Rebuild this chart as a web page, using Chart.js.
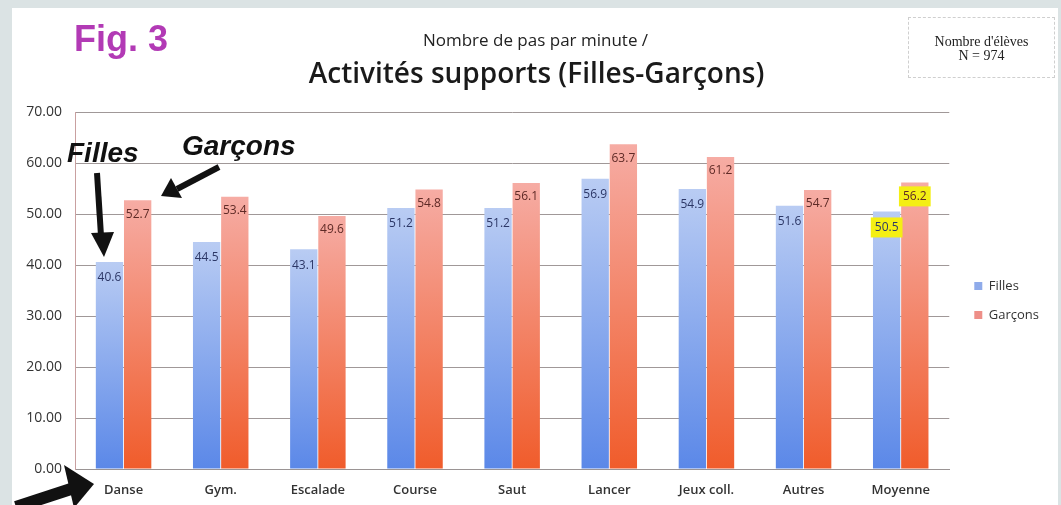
<!DOCTYPE html>
<html lang="fr">
<head>
<meta charset="utf-8">
<title>Fig. 3 – Nombre de pas par minute</title>
<script src="https://cdn.jsdelivr.net/npm/chart.js@4/dist/chart.umd.min.js"></script>
<style>
  html, body { margin: 0; padding: 0; }
  body { width: 1061px; height: 505px; background: #dbe3e4; position: relative; overflow: hidden; }
  #panel { position: absolute; left: 12px; top: 8px; width: 1046px; height: 497px; background: #fff; }
  #chart { position: absolute; left: 0; top: 0; }
  .txt { position: absolute; white-space: nowrap; }
  #fig { left: 74px; top: 18px; font: bold 36px "Liberation Sans Narrow", "Liberation Sans", sans-serif; color: #b23ab5; }
  #sub { left: 0; width: 1071px; top: 28px; text-align: center; font: 17px "Open Sans", sans-serif; color: #222; }
  #ttl { left: 0; width: 1073px; top: 53px; text-align: center; font: 600 28px "Open Sans", sans-serif; color: #1a1a1a; }
  #nbox { left: 908px; top: 17px; width: 147px; height: 61px; border: 1px dashed #cfcfcf; box-sizing: border-box;
          font: 14px "Liberation Serif", serif; color: #222; text-align: center; padding-top: 17px; line-height: 14px; }
  .note { font: italic bold 28px "Liberation Sans", sans-serif; color: #111; }
  #nFilles { left: 67px; top: 137px; }
  #nGarcons { left: 182px; top: 130px; }
  #arrows { position: absolute; left: 0; top: 0; }
</style>
</head>
<body>
<div id="panel"></div>
<canvas id="chart" width="1061" height="505"></canvas>
<div class="txt" id="fig">Fig. 3</div>
<div class="txt" id="sub">Nombre de pas par minute /</div>
<div class="txt" id="ttl">Activités supports (Filles-Garçons)</div>
<div class="txt" id="nbox">Nombre d'élèves<br>N = 974</div>
<div class="txt note" id="nFilles">Filles</div>
<div class="txt note" id="nGarcons">Garçons</div>
<svg id="arrows" width="1061" height="505">
  <g fill="#111" stroke="#111">
    <line x1="97" y1="173" x2="101" y2="236" stroke-width="6"/>
    <polygon points="91,233 114,232 104,257" stroke="none"/>
    <line x1="219" y1="167" x2="177" y2="189" stroke-width="6"/>
    <polygon points="171,178 182,198 161,196" stroke="none"/>
    <line x1="16" y1="507" x2="74" y2="488" stroke-width="12"/>
    <polygon points="64,465 74,508 94,484" stroke="none"/>
  </g>
</svg>
<script>
  "use strict";

  const categories = ["Danse", "Gym.", "Escalade", "Course", "Saut", "Lancer", "Jeux coll.", "Autres", "Moyenne"];
  const filles = [40.6, 44.5, 43.1, 51.2, 51.2, 56.9, 54.9, 51.6, 50.5];
  const garcons = [52.7, 53.4, 49.6, 54.8, 56.1, 63.7, 61.2, 54.7, 56.2];
  const yTicks = [0, 10, 20, 30, 40, 50, 60, 70];
  const highlighted = ["Moyenne"];

  // dégradé par barre : clair en haut, plus saturé en bas
  function barGradient(topColor, bottomColor) {
    return function (ctx) {
      const chart = ctx.chart;
      const area = chart.chartArea;
      if (!area || ctx.type !== "data") { return topColor; }
      const top = chart.scales.y.getPixelForValue(ctx.raw);
      const g = chart.ctx.createLinearGradient(0, top, 0, area.bottom);
      g.addColorStop(0, topColor);
      g.addColorStop(1, bottomColor);
      return g;
    };
  }

  const valueLabels = {
    id: "valueLabels",
    afterDatasetsDraw(chart) {
      const c = chart.ctx;
      c.save();
      c.font = "12px 'Open Sans', sans-serif";
      c.textAlign = "center";
      c.textBaseline = "middle";
      chart.data.datasets.forEach((ds, di) => {
        const meta = chart.getDatasetMeta(di);
        meta.data.forEach((el, i) => {
          const txt = ds.data[i].toFixed(1);
          const y = el.y + (di === 0 ? 16 : 14);
          if (highlighted.includes(categories[i])) {
            const w = c.measureText(txt).width + 8;
            c.fillStyle = "#f4ef14";
            c.fillRect(el.x - w / 2, y - 10, w, 20);
          }
          c.fillStyle = ds.labelColor;
          c.fillText(txt, el.x, y);
        });
      });
      c.restore();
    }
  };

  // légende un peu décalée vers la droite et vers le haut
  const legendShift = {
    id: "legendShift",
    afterLayout(chart) {
      const lg = chart.legend;
      if (!lg) { return; }
      lg.left += 9; lg.right += 9;
      lg.top -= 8; lg.bottom -= 8;
    }
  };

  const ctx = document.getElementById("chart").getContext("2d");
  new Chart(ctx, {
    type: "bar",
    data: {
      labels: categories,
      datasets: [
        { label: "Filles", data: filles, legendColor: "#8fabea", labelColor: "#2c3766",
          backgroundColor: barGradient("#b9ccf3", "#5b88e8") },
        { label: "Garçons", data: garcons, legendColor: "#ee8f88", labelColor: "#5e2a26",
          backgroundColor: barGradient("#f6aca4", "#f05c2b") },
      ],
    },
    options: {
      responsive: false,
      animation: false,
      layout: { padding: { top: 112, right: 21, bottom: 0, left: 0 } },
      datasets: { bar: { barPercentage: 0.97, categoryPercentage: 0.58, borderWidth: 0 } },
      scales: {
        x: {
          grid: { display: false, drawTicks: false },
          border: { color: "#9a9494" },
          ticks: { padding: 13, color: "#333", font: { family: "Open Sans", size: 13, weight: "600" } },
          afterFit: s => { s.height = 36; },
        },
        y: {
          min: 0, max: 70,
          afterBuildTicks: s => { s.ticks = yTicks.map(v => ({ value: v })); },
          grid: { color: "#a09898", drawTicks: false },
          border: { color: "#c9a0a0" },
          ticks: { padding: 13, color: "#333", font: { family: "Open Sans", size: 14 },
                   callback: v => Number(v).toFixed(2) },
          afterFit: s => { s.width = 75; },
        },
      },
      plugins: {
        legend: {
          position: "right",
          labels: {
            boxWidth: 8, boxHeight: 8, padding: 16, color: "#333",
            font: { family: "Open Sans", size: 13 },
            generateLabels: chart => Chart.defaults.plugins.legend.labels.generateLabels(chart)
              .map(l => Object.assign(l, {
                fillStyle: chart.data.datasets[l.datasetIndex].legendColor,
                strokeStyle: chart.data.datasets[l.datasetIndex].legendColor, lineWidth: 0 })),
          },
        },
        tooltip: { enabled: false },
      },
    },
    plugins: [valueLabels, legendShift],
  });
</script>
</body>
</html>
